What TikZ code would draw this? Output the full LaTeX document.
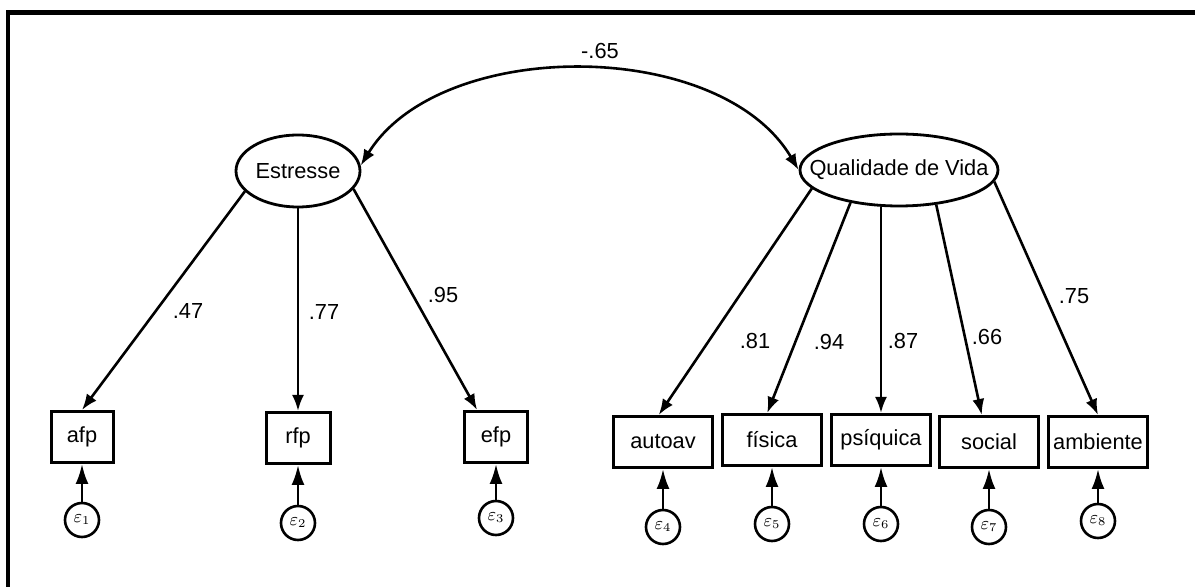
\documentclass[tikz,border=0pt]{standalone}
\usepackage{fontspec}
\setmainfont{Liberation Sans}
\usetikzlibrary{shapes.geometric,arrows.meta}

\begin{document}
\begin{tikzpicture}[x=0.5pt,y=-0.5pt,
   every node/.style={font=\fontsize{10.9pt}{13pt}\selectfont},
   latent/.style={draw,ellipse,line width=1.4pt,inner sep=0pt,minimum height=36pt},
   obs/.style={draw,line width=1.5pt,inner sep=0pt,minimum height=25.5pt},
   err/.style={draw,circle,line width=1.3pt,inner sep=0pt,minimum size=17pt,
      font=\fontsize{9pt}{10pt}\selectfont},
   load/.style={line width=1.3pt,-{Latex[length=8pt,width=6pt]}},
   errarrow/.style={line width=1.3pt,-{Latex[length=10pt,width=6.5pt]}}]
   \useasboundingbox (0,0) rectangle (1195,587);
   \draw[line width=2.2pt] (8,587) -- (8,12.5) -- (1195,12.5);

   \node[latent,minimum width=62pt] (estresse) at (298,171) {\makebox[0pt]{Estresse}};
   \node[latent,minimum width=99pt] (qualidade) at (899,170) {\makebox[0pt]{Qualidade de Vida}};

   \node[obs,minimum width=31pt] (afp) at (82,437) {afp};
   \node[obs,minimum width=32pt] (rfp) at (298,438) {rfp};
   \node[obs,minimum width=31.5pt] (efp) at (496,437) {efp};
   \node[obs,minimum width=49.5pt] (autoav) at (663,442) {autoav};
   \node[obs,minimum width=49.5pt] (fisica) at (772,440) {física};
   \node[obs,minimum width=49.5pt] (psiquica) at (881,440) {psíquica};
   \node[obs,minimum width=49.5pt] (social) at (989,442) {social};
   \node[obs,minimum width=49.5pt] (ambiente) at (1098,442) {ambiente};

   \node[err] (e1) at (82,520) {$\varepsilon_1$};
   \node[err] (e2) at (298,523) {$\varepsilon_2$};
   \node[err] (e3) at (496,518) {$\varepsilon_3$};
   \node[err] (e4) at (663,527) {$\varepsilon_4$};
   \node[err] (e5) at (772,524) {$\varepsilon_5$};
   \node[err] (e6) at (881,524) {$\varepsilon_6$};
   \node[err] (e7) at (989,527) {$\varepsilon_7$};
   \node[err] (e8) at (1098,521) {$\varepsilon_8$};

   \draw[line width=1.3pt,{Latex[length=8pt,width=6pt]}-{Latex[length=8pt,width=6pt]}]
   (estresse.5) .. controls (440,37) and (720,37) .. (qualidade.west);
   \node (r65) at (600,51) {-.65};

   \draw[load] (estresse.201) -- (afp.north);
   \draw[load] (estresse.south) -- (rfp.north);
   \draw[load] (estresse.342) -- (efp.125);
   \node (r47) at (188,311) {.47};
   \node (r77) at (324,312) {.77};
   \node (r95) at (443,295) {.95};

   \draw[load] (qualidade.192) -- (autoav.99);
   \draw[load] (qualidade.214) -- (fisica.100);
   \draw[load] (qualidade.south -| psiquica.north) -- (psiquica.north);
   \draw[load] (qualidade.317) -- (social.105);
   \draw[load] (qualidade.353) -- (ambiente.north);
   \node (r81) at (755,341) {.81};
   \node (r94) at (829,342) {.94};
   \node (r87) at (903,341) {.87};
   \node (r66) at (987,337) {.66};
   \node (r75) at (1074,296) {.75};

   \draw[errarrow] (e1) -- (afp);
   \draw[errarrow] (e2) -- (rfp);
   \draw[errarrow] (e3) -- (efp);
   \draw[errarrow] (e4) -- (autoav);
   \draw[errarrow] (e5) -- (fisica);
   \draw[errarrow] (e6) -- (psiquica);
   \draw[errarrow] (e7) -- (social);
   \draw[errarrow] (e8) -- (ambiente);
\end{tikzpicture}
\end{document}
